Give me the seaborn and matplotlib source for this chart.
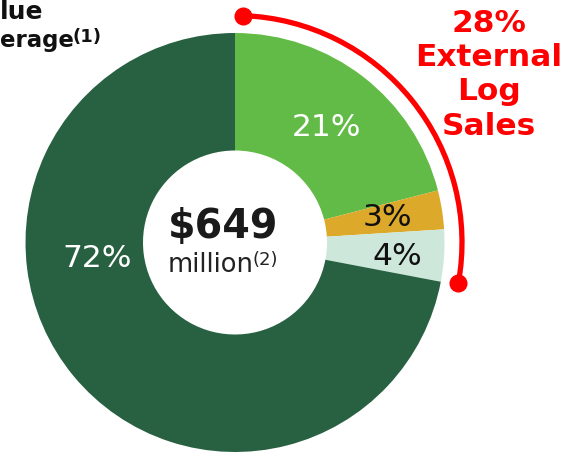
import numpy as np
import matplotlib
matplotlib.use("Agg")
import matplotlib.pyplot as plt
from matplotlib.patches import Arc
import seaborn as sns

# ---- data ----
categories = ["Segment 1", "Segment 2", "Segment 3", "Segment 4"]
shares = [21, 3, 4, 72]
pct_labels = ["21%", "3%", "4%", "72%"]
colors = ["#62BB46", "#DCA92B", "#CDE8DA", "#286142"]
label_colors = ["white", "#111111", "#111111", "white"]
total_value = "$649"
total_unit = "million"
callout_lines = ["28%", "External", "Log", "Sales"]

sns.set_theme(style="white")
plt.rcParams["font.family"] = ["DejaVu Sans"]

W, H = 580, 453
fig = plt.figure(figsize=(W / 100, H / 100), dpi=100)
ax = fig.add_axes([0, 0, 1, 1])

cx, cy = 235, H - 242.5
R, r_in = 209.5, 92
ax.pie(shares, colors=colors, startangle=90, counterclock=False, radius=R,
       center=(cx, cy), frame=True,
       wedgeprops=dict(width=R - r_in, linewidth=0))
ax.set_xlim(0, W)
ax.set_ylim(0, H)
ax.set_aspect("auto")
ax.axis("off")

# percent labels (x center, baseline in image px)
label_pos = [(327, 136), (387, 226), (397, 265), (97, 267)]
for (x, yb), s, c in zip(label_pos, pct_labels, label_colors):
    ax.text(x, H - yb, s, ha="center", va="baseline", fontsize=22.5, color=c)

# center text
ax.text(223.5, H - 238, total_value, ha="center", va="baseline", fontsize=28.5,
        fontweight="bold", color="#1a1a1a")
ax.text(168, H - 272, total_unit, ha="left", va="baseline", fontsize=18.5,
        color="#222222")
ax.text(253, H - 265, "(2)", ha="left", va="baseline", fontsize=13,
        color="#222222")

# red callout arc
ra = 227
t1, t2 = -10.35, 88
ax.add_patch(Arc((cx, cy), 2 * ra, 2 * ra, theta1=t1, theta2=t2,
                 color="#FF0000", lw=3.8, zorder=5))
ends = np.deg2rad([t1, t2])
ax.plot(cx + ra * np.cos(ends), cy + ra * np.sin(ends), "o", color="#FF0000",
        markersize=12, zorder=6)

for s, yb in zip(callout_lines, [32, 66, 100.5, 135]):
    ax.text(488.5, H - yb, s, ha="center", va="baseline", fontsize=22.5,
            fontweight="bold", color="#FF0000")

# clipped title fragments at top-left
ax.text(0, H - 19, "lue", ha="left", va="baseline", fontsize=18,
        fontweight="bold", color="#111111")
ax.text(0, H - 47, "erage", ha="left", va="baseline", fontsize=16.5,
        fontweight="bold", color="#111111")
ax.text(73, H - 42, "(1)", ha="left", va="baseline", fontsize=13,
        fontweight="bold", color="#111111")

fig.savefig("out.png", dpi=100)
